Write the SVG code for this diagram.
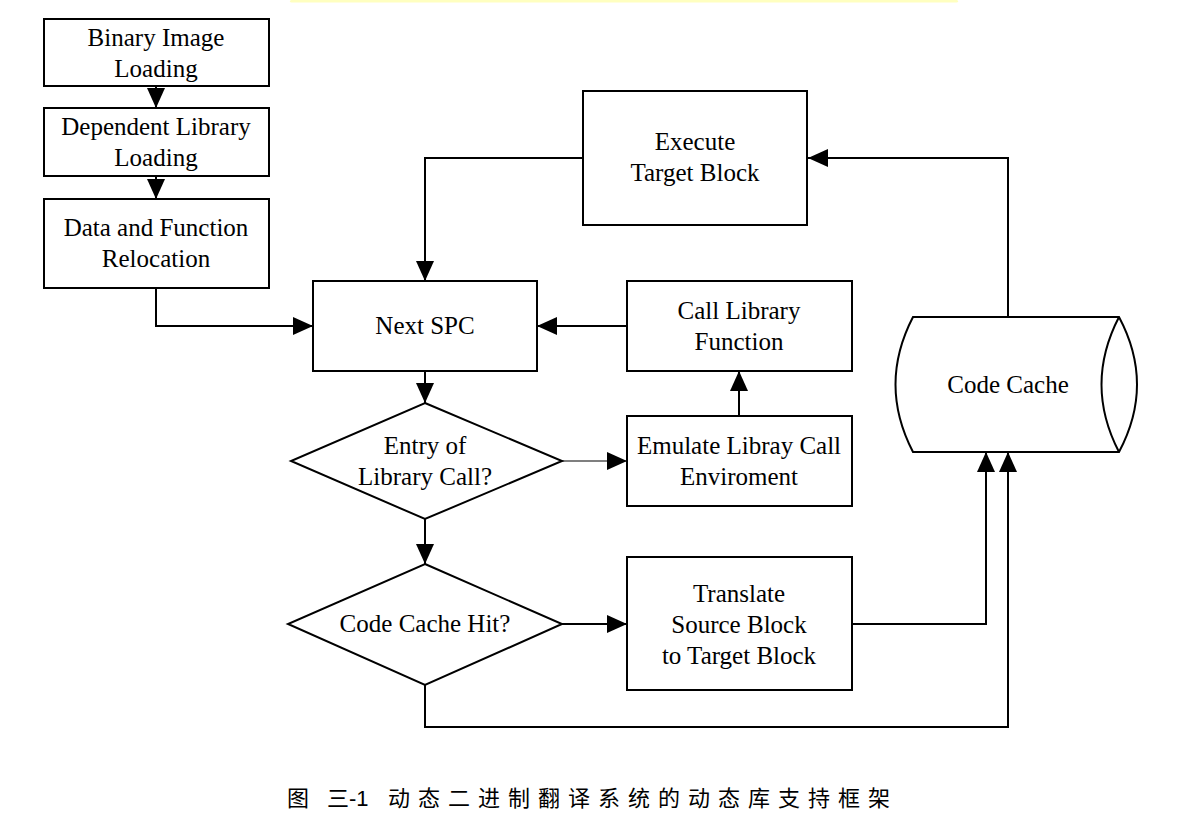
<svg xmlns="http://www.w3.org/2000/svg" width="1194" height="830" viewBox="0 0 1194 830">
<style>
.box{fill:#fff;stroke:#000;stroke-width:2}
.t{font-family:"Liberation Serif","Times New Roman",serif;font-size:25px;text-anchor:middle;fill:#000}
.c{fill:none;stroke:#000;stroke-width:2}
.thin{fill:none;stroke:#000;stroke-width:1.2}
.cap{font-family:"Noto Sans CJK SC","Liberation Sans",sans-serif;font-size:22px;fill:#000}
</style>
<defs>
<marker id="ah" markerUnits="userSpaceOnUse" markerWidth="20" markerHeight="20" viewBox="0 0 20 20" refX="20" refY="10" orient="auto">
<path d="M0,1 L20,10 L0,19 Z" fill="#000"/>
</marker>
</defs>
<rect x="290" y="0" width="668" height="2.5" rx="1.5" fill="#ffffc0"/>
<g id="connectors">
<path class="c" d="M156,86 V108" marker-end="url(#ah)"/>
<path class="c" d="M156,176 V199" marker-end="url(#ah)"/>
<path class="c" d="M156,288 V326 H313" marker-end="url(#ah)"/>
<path class="c" d="M583,158 H425 V281" marker-end="url(#ah)"/>
<path class="c" d="M1008,317 V158 H808" marker-end="url(#ah)"/>
<path class="c" d="M627,326 H537" marker-end="url(#ah)"/>
<path class="c" d="M425,371 V403" marker-end="url(#ah)"/>
<path class="thin" d="M562,461 H627" marker-end="url(#ah)"/>
<path class="c" d="M739,416 V371" marker-end="url(#ah)"/>
<path class="c" d="M425,519 V564" marker-end="url(#ah)"/>
<path class="c" d="M562,624 H627" marker-end="url(#ah)"/>
<path class="c" d="M851,624 H986 V452" marker-end="url(#ah)"/>
<path class="c" d="M425,685 V727 H1008 V452" marker-end="url(#ah)"/>
</g>
<g id="binary">
<rect class="box" x="44" y="19" width="225" height="67"/>
<text class="t" x="156" y="46">Binary Image</text>
<text class="t" x="156" y="77">Loading</text>
</g>
<g id="dependent">
<rect class="box" x="44" y="108" width="225" height="68"/>
<text class="t" x="156" y="135">Dependent Library</text>
<text class="t" x="156" y="166">Loading</text>
</g>
<g id="relocation">
<rect class="box" x="44" y="199" width="225" height="89"/>
<text class="t" x="156" y="236">Data and Function</text>
<text class="t" x="156" y="267">Relocation</text>
</g>
<g id="execute">
<rect class="box" x="583" y="91" width="224" height="134"/>
<text class="t" x="695" y="150">Execute</text>
<text class="t" x="695" y="181">Target Block</text>
</g>
<g id="nextspc">
<rect class="box" x="313" y="281" width="224" height="90"/>
<text class="t" x="425" y="334">Next SPC</text>
</g>
<g id="calllib">
<rect class="box" x="627" y="281" width="225" height="90"/>
<text class="t" x="739" y="319">Call Library</text>
<text class="t" x="739" y="350">Function</text>
</g>
<g id="codecache">
<path class="box" d="M913,317 H1119 Q1155,384.5 1119,452 H913 Q878,384.5 913,317 Z"/>
<path class="c" d="M1119,317 Q1084,384.5 1119,452"/>
<text class="t" x="1008" y="393">Code Cache</text>
</g>
<g id="entry">
<path class="box" d="M425,403 L562,461 L425,519 L291,461 Z"/>
<text class="t" x="425" y="454">Entry of</text>
<text class="t" x="425" y="485">Library Call?</text>
</g>
<g id="emulate">
<rect class="box" x="627" y="416" width="225" height="90"/>
<text class="t" x="739" y="454">Emulate Libray Call</text>
<text class="t" x="739" y="485">Enviroment</text>
</g>
<g id="hit">
<path class="box" d="M425,564 L562,624 L425,685 L288,624 Z"/>
<text class="t" x="425" y="632">Code Cache Hit?</text>
</g>
<g id="translate">
<rect class="box" x="627" y="557" width="225" height="133"/>
<text class="t" x="739" y="602">Translate</text>
<text class="t" x="739" y="633">Source Block</text>
<text class="t" x="739" y="664">to Target Block</text>
</g>
<g id="caption">
<text class="cap" x="287" y="806">图</text>
<text class="cap" x="327" y="806">三</text>
<text x="349" y="806" font-family="Liberation Sans, Arial, sans-serif" font-size="22" fill="#000">-1</text>
<text class="cap" x="388" y="806" letter-spacing="8">动态二进制翻译系统的动态库支持框架</text>
</g>
</svg>
